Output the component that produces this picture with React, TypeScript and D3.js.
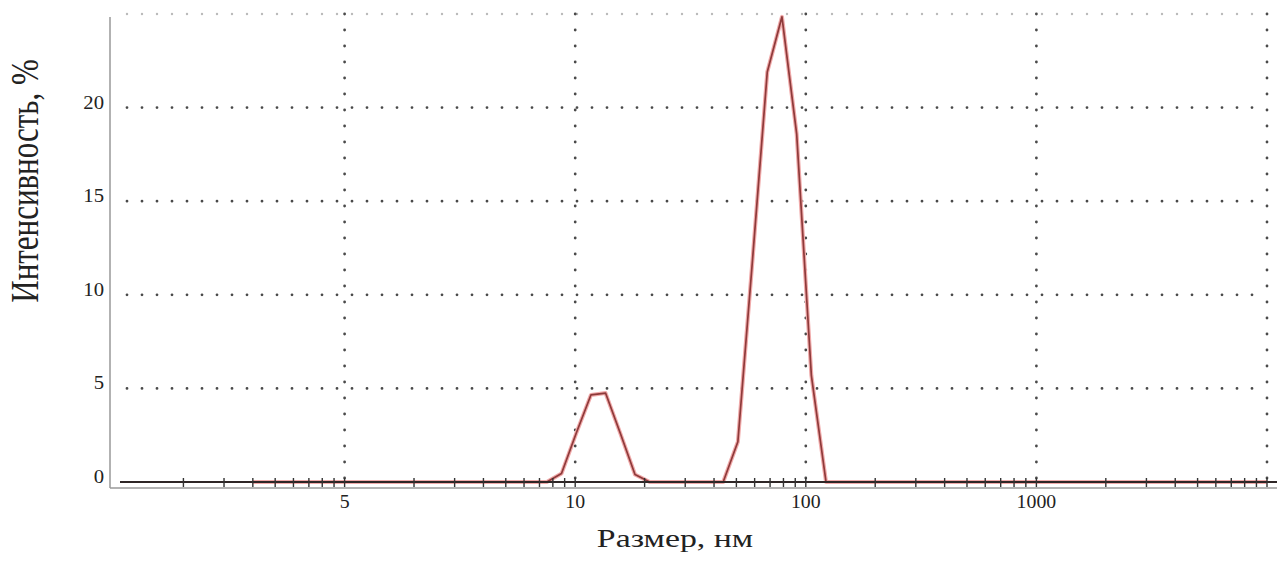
import React from 'react';
import * as d3 from 'd3';

// particle size distribution by intensity (DLS)
const sizes = [0.4, 7.531, 8.721, 10.1, 11.7, 13.54, 15.69, 18.17, 21.04, 43.82, 50.75, 58.77, 68.06, 78.82, 91.28, 105.7, 122.4, 10000];
const intensity = [0, 0, 0.45, 2.6, 4.65, 4.75, 2.6, 0.4, 0, 0, 2.15, 11.9, 21.9, 24.85, 18.6, 5.7, 0, 0];

const xMajor = [1, 10, 100, 1000];
const xLabels = ['5', '10', '100', '1000'];
const yTicks = [0, 5, 10, 15, 20];
const yLabels = ['0', '5', '10', '15', '20'];

const W = 1277;
const H = 571;
const font = '"Liberation Serif", "Times New Roman", serif';

export default function App() {
  const x = d3.scaleLog().domain([0.1, 10000]).range([114, 1267]);
  const y = d3.scaleLinear().domain([0, 25]).range([482, 14]);

  const data = sizes.map((s, i) => ({ s, v: intensity[i] }));
  const line = d3.line<{ s: number; v: number }>()
    .x(d => x(d.s))
    .y(d => y(d.v));
  const path = line(data) || '';

  const minor = x.ticks().filter(t => t > 0.1);
  const vGrid = [...xMajor, 10000];
  const y0 = y(0);

  return (
    <svg width={W} height={H} style={{ position: 'absolute', left: 0, top: 0, background: '#fff' }}>
      {/* horizontal dotted grid */}
      {yTicks.filter(t => t > 0).map(t => (
        <line key={'h' + t} x1={127} x2={x(10000)} y1={y(t)} y2={y(t)}
          stroke="#4a4a4a" strokeWidth={2.8} strokeDasharray="0 15" strokeLinecap="round" />
      ))}
      <line x1={127} x2={x(10000)} y1={y(25)} y2={y(25)}
        stroke="#bbb" strokeWidth={2.4} strokeDasharray="0 15" strokeLinecap="round" />
      {/* vertical dotted grid */}
      {vGrid.map(t => (
        <line key={'v' + t} x1={x(t)} x2={x(t)} y1={y(25)} y2={y0}
          stroke="#4a4a4a" strokeWidth={2.8} strokeDasharray="0 16" strokeLinecap="round" />
      ))}

      {/* axes frame */}
      <line x1={110} x2={110} y1={17} y2={488} stroke="#999" strokeWidth={1.5} />
      <line x1={110} x2={W} y1={488} y2={488} stroke="#999" strokeWidth={1.5} />

      {/* curve */}
      <path d={path} fill="none" stroke="#f0aaaa" strokeWidth={4} strokeLinejoin="round" />
      <path d={path} fill="none" stroke="#8e3a3a" strokeWidth={1.7} strokeLinejoin="round" />

      {/* baseline with log ticks */}
      <line x1={120} x2={W} y1={y0} y2={y0} stroke="#2e2626" strokeWidth={1.8} />
      {minor.map((t, i) => (
        <line key={'t' + i} x1={x(t)} x2={x(t)} y1={y0 - 4} y2={y0 + 5} stroke="#333" strokeWidth={1.4} />
      ))}

      {/* y tick labels */}
      {yTicks.map((t, i) => (
        <text key={'yl' + t} transform={`translate(104,${y(t) + 1}) scale(1.15,1)`} textAnchor="end" fontFamily={font} fontSize={18} fill="#222">
          {yLabels[i]}
        </text>
      ))}

      {/* x tick labels */}
      {xMajor.map((t, i) => (
        <text key={'xl' + t} transform={`translate(${x(t)},508) scale(1.1,1)`} textAnchor="middle" fontFamily={font} fontSize={18} fill="#222">
          {xLabels[i]}
        </text>
      ))}

      {/* axis titles */}
      <text transform="translate(675,547) scale(1.3,1)" textAnchor="middle" fontFamily={font} fontSize={26} fill="#222">
        Размер, нм
      </text>
      <text transform="translate(38,181) scale(1.3,1) rotate(-90)" textAnchor="middle" fontFamily={font} fontSize={31} fill="#222">
        Интенсивность, %
      </text>
    </svg>
  );
}
